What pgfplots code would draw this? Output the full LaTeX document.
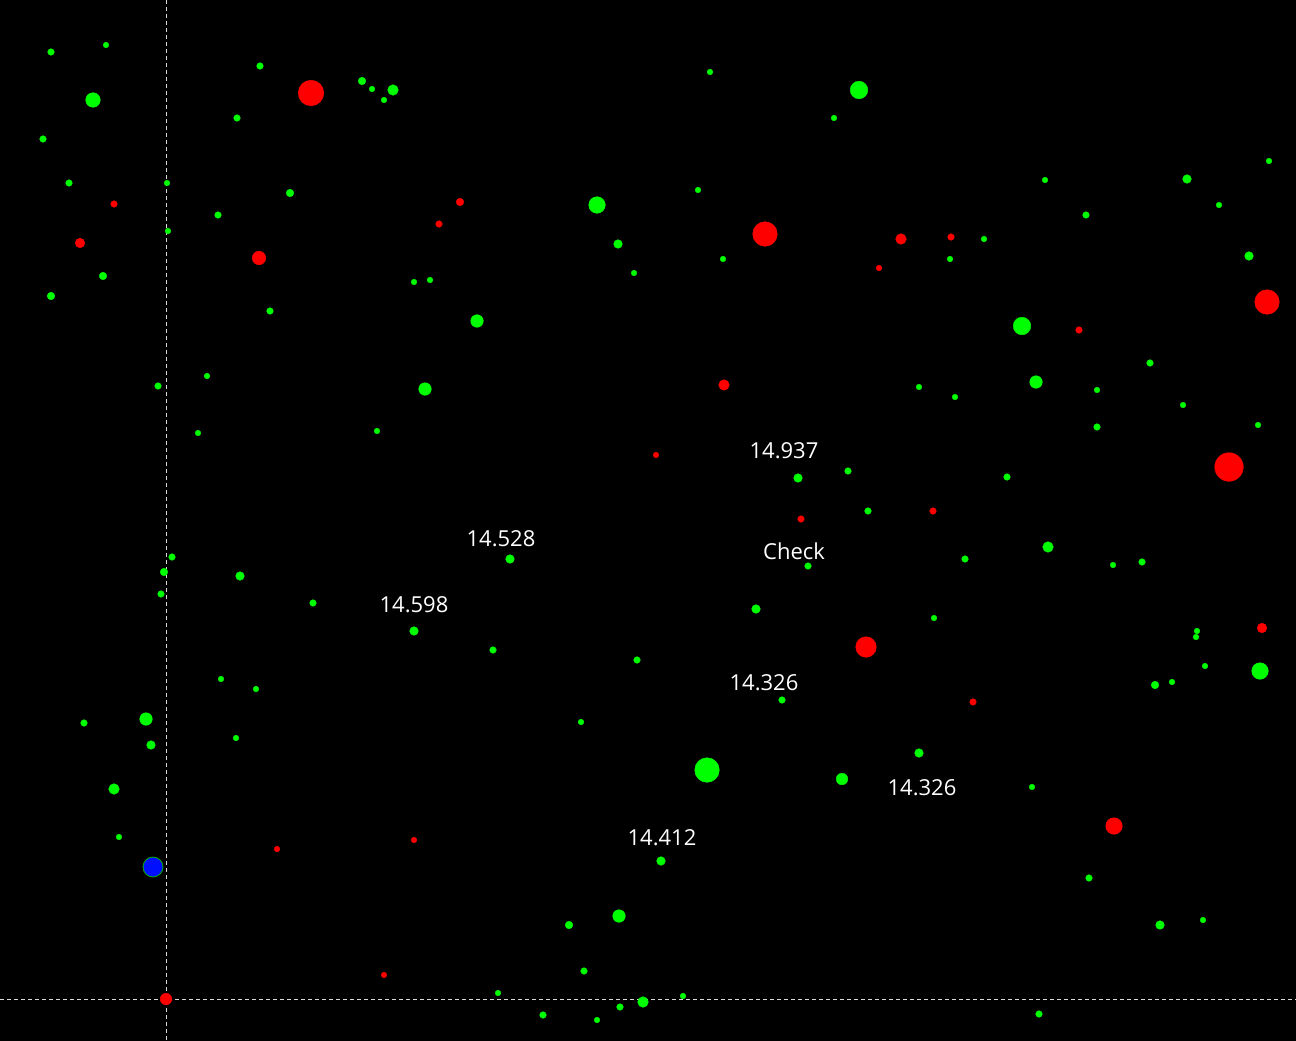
\documentclass[border=0pt]{standalone}
\usepackage{pgfplots}
\pgfplotsset{compat=1.18}
\usepackage{fontspec}
\setmainfont{Open Sans}
\definecolor{G}{RGB}{0,255,0}
\definecolor{R}{RGB}{255,0,0}
\definecolor{B}{RGB}{0,16,255}
\pgfplotsset{
  dots/.style={scatter, only marks, mark=*,
    scatter/use mapped color={draw=#1, fill=#1},
    visualization depends on={\thisrow{r} \as \rad},
    scatter/@pre marker code/.append style={/tikz/mark size=\rad pt + 0.3pt}}
}
\begin{document}
\begin{tikzpicture}
\fill[black] (-3pt,-3pt) rectangle (1299pt,1044pt);
\begin{axis}[
  at={(0,0)}, anchor=south west,
  width=1296pt, height=1041pt, scale only axis,
  xmin=0, xmax=1296, ymin=0, ymax=1041, y dir=reverse,
  axis lines=none, ticks=none,
  clip=false,
]
\addplot[dots=G] table {
x y r
51 52 3
106 45 2.5
260 66 3
237 118 3
43 139 3
69 183 3
167 183 2.5
218 215 3
168 231 2.5
290 193 3.5
103 276 3.5
51 296 3.5
270 311 3
362 81 3.5
372 89 2.5
384 100 2.5
393 90 5
93 100 7
414 282 2.5
430 280 2.5
207 376 2.5
158 386 3
198 433 2.5
377 431 2.5
710 72 2.5
834 118 2.5
859 90 8.5
698 190 2.5
597 205 8
618 244 4
634 273 2.5
723 259 2.5
477 321 6
425 389 6
1045 180 2.5
1086 215 3
1187 179 4
1219 205 2.5
1269 161 2.5
984 239 2.5
950 259 2.5
1249 256 4
1022 326 8.5
1036 382 6
919 387 2.5
955 397 2.5
1097 390 2.5
1150 363 3
1183 405 2.5
1258 425 2.5
1097 427 3
848 471 3
798 478 4
1007 477 3
868 511 3
965 559 3
1048 547 5
1113 565 2.5
1142 562 3
808 566 3
510 559 4
756 609 4
934 618 2.5
1197 631 2.5
1196 637 2.5
1205 666 2.5
1172 682 2.5
1155 685 3.5
1260 671 8
637 660 3
493 650 3
414 631 4
581 722 2.5
782 700 3
919 753 4
842 779 5.5
707 770 12
1032 787 2.5
1089 878 3
1203 920 2.5
1160 925 4
172 557 3
164 572 3.5
161 594 3
240 576 4
313 603 3
221 679 2.5
256 689 2.5
236 738 2.5
84 723 3
146 719 6
151 745 4
114 789 5
119 837 2.5
661 861 4
569 925 3.5
619 916 6
584 971 3
498 993 2.5
543 1015 3
597 1020 2.5
620 1007 3
643 1002 5
683 996 2.5
1039 1014 3
};
\addplot[dots=R] table {
x y r
311 93 12.5
765 234 12
259 258 6.5
80 243 4.5
114 204 3
439 224 3
460 202 3.5
901 239 5
951 237 3
879 268 2.5
1267 302 12
1079 330 3
724 385 5
656 455 2.5
801 519 3
933 511 3
1229 467 14
866 647 10
1262 628 4.5
973 702 3
1114 826 8
277 849 2.5
414 840 2.5
384 975 2.5
166 999 5.5
};
\addplot[only marks, mark=*, mark size=10pt, mark options={fill=B, draw=G!70!black, line width=0.8pt}] coordinates {(153,867)};
\draw[white!85!black, line width=1pt, dash pattern=on 4pt off 3pt] (axis cs:166,0) -- (axis cs:166,1041);
\draw[white!85!black, line width=1pt, dash pattern=on 4pt off 3pt] (axis cs:0,999) -- (axis cs:1296,999);
\begin{scope}[every node/.style={text=white, font=\fontsize{22}{26}\selectfont, inner sep=0pt}]
\node at (axis cs:784,451) {14.937};
\node at (axis cs:501,539) {14.528};
\node at (axis cs:414,605) {14.598};
\node at (axis cs:794,551) {Check};
\node at (axis cs:764,683) {14.326};
\node at (axis cs:922,788) {14.326};
\node at (axis cs:662,838) {14.412};
\end{scope}
\end{axis}
\pgfresetboundingbox
\path[use as bounding box] (0,0) rectangle (1296pt,1041pt);
\end{tikzpicture}
\end{document}
